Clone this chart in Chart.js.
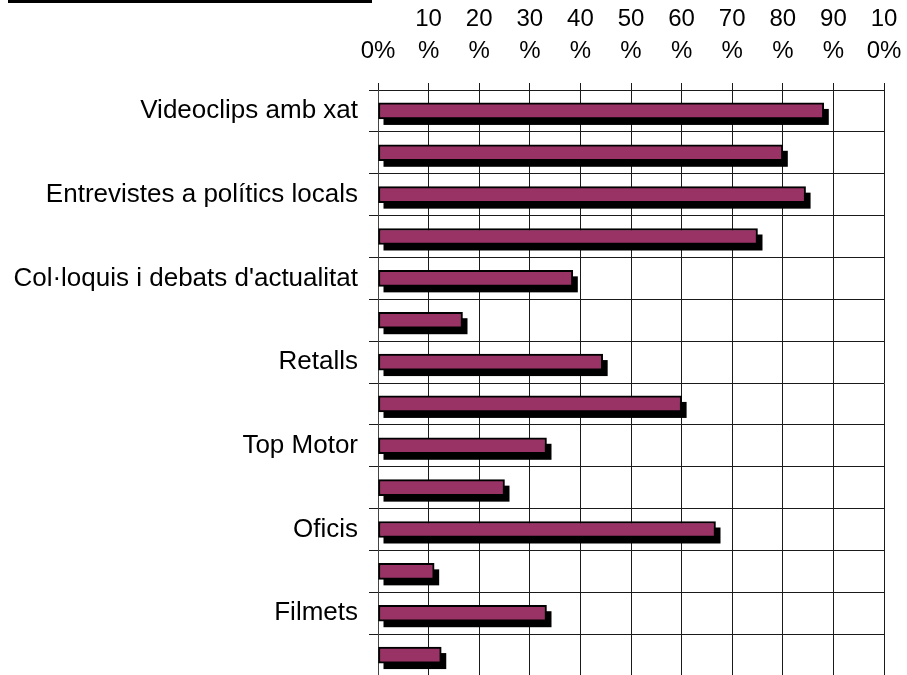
<!DOCTYPE html>
<html>
<head>
<meta charset="utf-8">
<script src="https://cdn.jsdelivr.net/npm/chart.js@4.4.0/dist/chart.umd.min.js"></script>
<style>
  html, body { margin: 0; padding: 0; background: #fff; overflow: hidden; }
  #wrap { position: relative; width: 907px; height: 678px; }
  #titleBar { position: absolute; left: 8px; top: 0; width: 364px; height: 3px; background: #000; }
</style>
</head>
<body>
<div id="wrap">
  <canvas id="chart" width="907" height="678"></canvas>
  <div id="titleBar"></div>
</div>
<script>
// ====================== Data ======================
const categories = [
  "Videoclips amb xat", "",
  "Entrevistes a polítics locals", "",
  "Col·loquis i debats d'actualitat", "",
  "Retalls", "",
  "Top Motor", "",
  "Oficis", "",
  "Filmets", ""
];
const values = [88.1, 80, 84.5, 75, 38.5, 16.7, 44.4, 60, 33.3, 25, 66.7, 11.1, 33.3, 12.5];
const tickLabels = ["0%", ["10", "%"], ["20", "%"], ["30", "%"], ["40", "%"], ["50", "%"],
  ["60", "%"], ["70", "%"], ["80", "%"], ["90", "%"], ["10", "0%"]];

// ====================== Shadow plugin ======================
// draws a black drop shadow behind each bar, using the bar elements' own geometry
const barShadow = {
  id: "barShadow",
  beforeDatasetsDraw(chart) {
    const ctx = chart.ctx;
    const area = chart.chartArea;
    ctx.save();
    ctx.beginPath();
    ctx.rect(area.left, area.top, area.right - area.left, area.bottom - area.top);
    ctx.clip();
    ctx.fillStyle = "#000";
    chart.getDatasetMeta(0).data.forEach(bar => {
      const h = bar.height;
      ctx.fillRect(bar.base + 5, bar.y - h / 2 + 6, bar.x - bar.base, h);
    });
    ctx.restore();
  }
};

const FONT = { family: "'Liberation Sans', Arial, sans-serif", size: 24 };

new Chart(document.getElementById("chart"), {
  type: "bar",
  data: {
    labels: categories,
    datasets: [{
      data: values,
      backgroundColor: "#993366",
      borderColor: "#000",
      borderWidth: 2,
      borderSkipped: false,
      barThickness: 16
    }]
  },
  plugins: [barShadow],
  options: {
    indexAxis: "y",
    responsive: false,
    animation: false,
    layout: { padding: { top: 0, left: 0, right: 23, bottom: 2 } },
    plugins: { legend: { display: false }, tooltip: { enabled: false } },
    scales: {
      x: {
        position: "top",
        min: 0,
        max: 100,
        afterFit: s => { s.height = 90; s.paddingLeft = 0; s.paddingRight = 0; },
        ticks: {
          stepSize: 10,
          autoSkip: false,
          maxRotation: 0,
          color: "#000",
          font: { ...FONT, lineHeight: 1.33 },
          padding: 16,
          callback: (v, i) => tickLabels[i]
        },
        grid: { color: "#1a1a1a", lineWidth: 1, tickLength: 7 },
        border: { color: "#1a1a1a", width: 1 }
      },
      y: {
        afterFit: s => { s.width = 378; s.paddingTop = 0; s.paddingBottom = 0; },
        ticks: {
          autoSkip: false,
          color: "#000",
          font: { ...FONT, size: 26 },
          padding: 11
        },
        grid: { offset: true, color: "#1a1a1a", lineWidth: 1, tickLength: 9 },
        border: { color: "#444", width: 1 }
      }
    }
  }
});
</script>
</body>
</html>
